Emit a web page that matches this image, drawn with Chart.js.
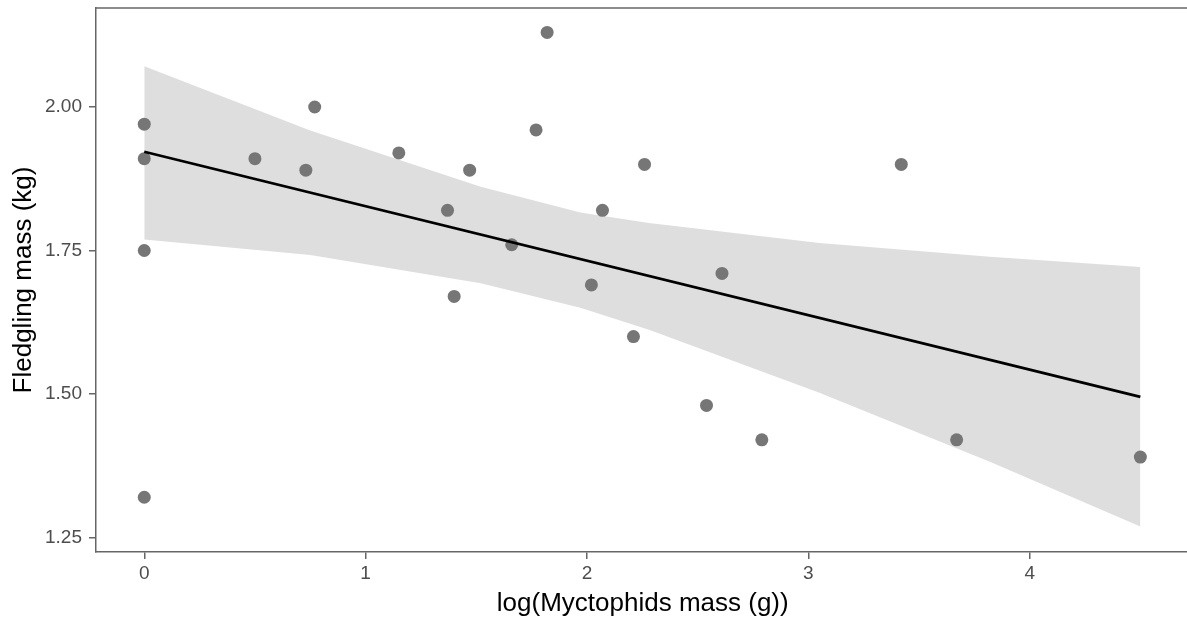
<!DOCTYPE html>
<html>
<head>
<meta charset="utf-8">
<script src="https://cdn.jsdelivr.net/npm/chart.js@4.4.1/dist/chart.umd.min.js"></script>
<style>
  html, body { margin: 0; padding: 0; background: #fff; overflow: hidden; }
  #wrap { width: 1196px; height: 619px; position: relative; }
</style>
</head>
<body>
<div id="wrap"><canvas id="myChart"></canvas></div>
<script>
// observed points
const xVals = [0, 0, 0, 0, 0.50, 0.73, 0.77, 1.15, 1.37, 1.40, 1.47, 1.66, 1.77, 1.82, 2.02, 2.07, 2.21, 2.26, 2.54, 2.61, 2.79, 3.42, 3.67, 4.50];
const yVals = [1.97, 1.91, 1.75, 1.32, 1.91, 1.89, 2.00, 1.92, 1.82, 1.67, 1.89, 1.76, 1.96, 2.13, 1.69, 1.82, 1.60, 1.90, 1.48, 1.71, 1.42, 1.90, 1.42, 1.39];

// fitted line ends
const fitX = [0, 4.50];
const fitY = [1.922, 1.495];

// confidence band
const bandX = [0, 0.75, 1.52, 1.97, 2.28, 3.05, 3.82, 4.50];
const bandUpper = [2.071, 1.959, 1.861, 1.816, 1.798, 1.763, 1.739, 1.721];
const bandLower = [1.769, 1.742, 1.693, 1.650, 1.612, 1.502, 1.382, 1.269];

// ticks
const xTicks = [0, 1, 2, 3, 4];
const yTicks = [1.25, 1.50, 1.75, 2.00];
const yTickLabels = ["1.25", "1.50", "1.75", "2.00"];

const pts = (xs, ys) => xs.map((x, i) => ({ x: x, y: ys[i] }));

const axisGray = "#666666";
const fontFam = "'Liberation Sans', Arial, sans-serif";

// top panel line
const panelTop = {
    id: "panelTop",
    afterDatasetsDraw(chart) {
        const a = chart.chartArea;
        const ctx = chart.ctx;
        ctx.save();
        ctx.strokeStyle = axisGray;
        ctx.lineWidth = 1.5;
        ctx.beginPath();
        ctx.moveTo(a.left, a.top);
        ctx.lineTo(a.right, a.top);
        ctx.stroke();
        ctx.restore();
    }
};

const config = {
    type: 'scatter',
    data: {
        datasets: [{
            label: 'fit',
            data: pts(fitX, fitY),
            showLine: true,
            borderColor: '#000',
            borderWidth: 2.8,
            pointRadius: 0,
            order: 0
        }, {
            label: 'points',
            data: pts(xVals, yVals),
            backgroundColor: '#767676',
            borderWidth: 0,
            pointRadius: 6.5,
            order: 1
        }, {
            label: 'upper',
            data: pts(bandX, bandUpper),
            showLine: true,
            borderWidth: 0,
            borderColor: 'rgba(0,0,0,0)',
            backgroundColor: '#dedede',
            pointRadius: 0,
            fill: '+1',
            order: 2
        }, {
            label: 'lower',
            data: pts(bandX, bandLower),
            showLine: true,
            borderWidth: 0,
            borderColor: 'rgba(0,0,0,0)',
            pointRadius: 0,
            fill: false,
            order: 3
        }]
    },
    options: {
        responsive: true,
        maintainAspectRatio: false,
        animation: false,
        layout: { padding: { top: 8, left: 0, right: 0, bottom: 0 } },
        plugins: {
            legend: { display: false },
            tooltip: { enabled: false }
        },
        scales: {
            x: {
                type: 'linear',
                min: -0.218,
                max: 4.722,
                afterBuildTicks: s => { s.ticks = xTicks.map(v => ({ value: v })); },
                afterFit: s => { s.height = 67; s.paddingLeft = 0; s.paddingRight = 0; },
                grid: { drawOnChartArea: false, drawTicks: true, tickLength: 7, color: axisGray, lineWidth: 1.5 },
                border: { display: true, color: axisGray, width: 1.5 },
                ticks: {
                    color: '#4d4d4d',
                    padding: 3,
                    font: { size: 19, family: fontFam }
                },
                title: {
                    display: true,
                    text: 'log(Myctophids mass (g))',
                    color: '#000',
                    font: { size: 26, family: fontFam },
                    padding: { top: 0, bottom: 0 }
                }
            },
            y: {
                type: 'linear',
                min: 1.2246,
                max: 2.1725,
                afterBuildTicks: s => { s.ticks = yTicks.map(v => ({ value: v })); },
                afterFit: s => { s.width = 96; s.paddingTop = 0; s.paddingBottom = 0; },
                grid: { drawOnChartArea: false, drawTicks: true, tickLength: 7, color: axisGray, lineWidth: 1.5 },
                border: { display: true, color: axisGray, width: 1.5 },
                ticks: {
                    color: '#4d4d4d',
                    padding: 7,
                    font: { size: 19, family: fontFam },
                    callback: (v) => yTickLabels[yTicks.indexOf(v)]
                },
                title: {
                    display: true,
                    text: 'Fledgling mass (kg)',
                    color: '#000',
                    font: { size: 26, family: fontFam },
                    padding: { top: 8, bottom: 0 }
                }
            }
        }
    },
    plugins: [panelTop]
};
new Chart(document.getElementById("myChart"), config);
</script>
</body>
</html>
